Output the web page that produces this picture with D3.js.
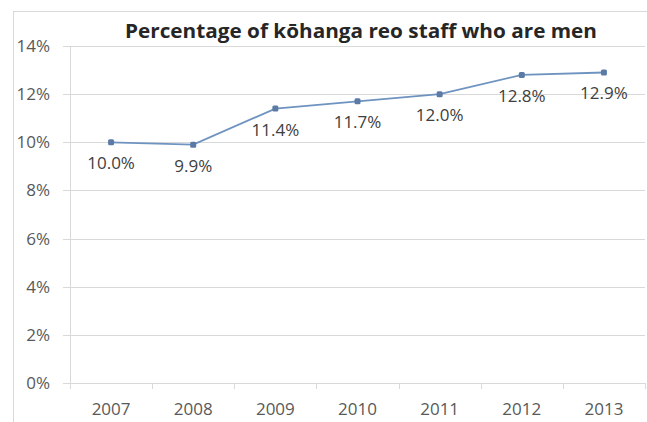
<!DOCTYPE html>
<html>
<head>
<meta charset="utf-8">
<script src="https://cdn.jsdelivr.net/npm/d3@7"></script>
<style>
  html, body { margin: 0; padding: 0; background: #fff; }
  svg { display: block; }
</style>
</head>
<body>
<script>
const years = ["2007", "2008", "2009", "2010", "2011", "2012", "2013"];
const percentMen = [10.0, 9.9, 11.4, 11.7, 12.0, 12.8, 12.9];
const yTicks = [0, 2, 4, 6, 8, 10, 12, 14];
const chartTitle = "Percentage of kōhanga reo staff who are men";

const W = 647, H = 422;
const svg = d3.select("body").append("svg").attr("width", W).attr("height", H);
const font = "'Open Sans', 'Liberation Sans', sans-serif";

// chart frame
svg.append("rect").attr("x", 13.5).attr("y", 11.5).attr("width", 640).attr("height", 420)
  .attr("fill", "#fff").attr("stroke", "#d9d9d9");

const plot = { left: 70, right: 645, top: 46, bottom: 383 };
const x = d3.scaleBand().domain(years).range([plot.left, plot.right]);
const y = d3.scaleLinear().domain([0, 14]).range([plot.bottom, plot.top]);

// gridlines + y labels
const yAxis = d3.axisLeft(y).tickValues(yTicks).tickSize(-(plot.right - plot.left)).tickPadding(20)
  .tickFormat(d => d + "%");
const gy = svg.append("g").attr("transform", `translate(${plot.left},0)`).call(yAxis);
gy.select(".domain").remove();
gy.selectAll(".tick line").attr("stroke", "#d9d9d9").attr("x1", -7).attr("shape-rendering", "crispEdges");
gy.selectAll(".tick text").attr("font-family", font).attr("font-size", 17).attr("fill", "#595959");

// vertical axis line
svg.append("line").attr("x1", plot.left + 0.5).attr("x2", plot.left + 0.5)
  .attr("y1", plot.top).attr("y2", plot.bottom).attr("stroke", "#d9d9d9");

// x axis
const xAxis = d3.axisBottom(x).tickSize(0).tickPadding(20);
const gx = svg.append("g").attr("transform", `translate(0,${plot.bottom})`).call(xAxis);
gx.select(".domain").attr("stroke", "#d9d9d9");
gx.selectAll(".tick text").attr("font-family", font).attr("font-size", 17).attr("fill", "#595959");
// category boundary ticks
const bounds = years.map(d => x(d)).concat([x(years[years.length - 1]) + x.bandwidth()]);
svg.append("g").selectAll("line").data(bounds).join("line")
  .attr("x1", d => Math.round(d) + 0.5).attr("x2", d => Math.round(d) + 0.5)
  .attr("y1", plot.bottom).attr("y2", plot.bottom + 6).attr("stroke", "#d9d9d9");

// title
svg.append("text").attr("x", 361).attr("y", 38).attr("text-anchor", "middle")
  .attr("font-family", font).attr("font-weight", "bold").attr("font-size", 19)
  .attr("fill", "#262626").attr("textLength", 472).attr("lengthAdjust", "spacingAndGlyphs")
  .text(chartTitle);

const data = years.map((yr, i) => ({ yr, v: percentMen[i] }));
const cx = d => x(d.yr) + x.bandwidth() / 2;

svg.append("path").datum(data)
  .attr("fill", "none").attr("stroke", "#6f93c0").attr("stroke-width", 1.8)
  .attr("d", d3.line().x(cx).y(d => y(d.v)));

svg.append("g").selectAll("rect").data(data).join("rect")
  .attr("x", d => cx(d) - 3).attr("y", d => y(d.v) - 3)
  .attr("width", 6).attr("height", 6).attr("rx", 1.5)
  .attr("fill", "#5b7ba6");

svg.append("g").selectAll("text").data(data).join("text")
  .attr("x", cx).attr("y", d => y(d.v) + 27).attr("text-anchor", "middle")
  .attr("font-family", font).attr("font-size", 17).attr("fill", "#404040")
  .text(d => d.v.toFixed(1) + "%");
</script>
</body>
</html>
